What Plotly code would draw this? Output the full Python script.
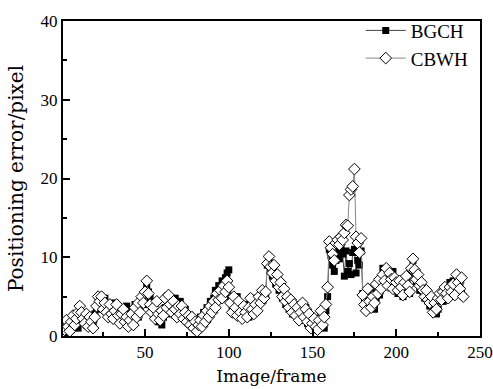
import plotly.graph_objects as go

frames = list(range(1, 241))

bgch = [
    1.0, 0.6, 1.2, 0.4, 1.5, 0.8, 1.8, 1.2, 2.2, 1.0,
    2.6, 1.8, 3.0, 2.0, 1.4, 2.4, 1.2, 2.0, 1.6, 2.8,
    3.4, 4.6, 5.0, 4.4, 3.8, 4.8, 3.6, 2.8, 3.4, 2.6,
    3.2, 4.2, 2.8, 3.6, 2.4, 3.0, 2.0, 2.6, 3.8, 3.0,
    2.2, 3.4, 2.6, 4.0, 3.2, 2.4, 3.6, 4.4, 5.2, 4.0,
    6.2, 5.6, 4.8, 3.4, 2.6, 3.0, 2.2, 1.8, 2.8, 1.4,
    2.4, 3.6, 2.8, 4.2, 3.4, 4.6, 3.8, 4.8, 4.0, 3.2,
    4.4, 3.6, 2.8, 3.4, 2.4, 1.8, 2.6, 1.4, 2.0, 1.2,
    1.8, 0.8, 2.4, 1.6, 3.0, 2.2, 3.6, 2.8, 4.4, 3.4,
    4.8, 5.8, 5.0, 6.4, 5.6, 7.0, 6.6, 7.4, 8.0, 8.4,
    5.0, 3.6, 4.4, 3.0, 5.0, 4.2, 2.6, 3.4, 2.8, 4.0,
    3.2, 2.4, 3.6, 4.4, 3.0, 4.8, 3.8, 4.4, 5.2, 4.6,
    5.6, 5.2, 9.0, 9.6, 8.4, 7.6, 8.0, 6.6, 7.2, 5.8,
    6.2, 4.8, 5.4, 4.0, 4.6, 3.4, 4.2, 2.8, 3.6, 3.0,
    4.0, 2.4, 3.4, 2.0, 2.8, 3.6, 1.6, 2.6, 1.2, 2.0,
    1.4, 0.8, 2.2, 1.6, 3.0, 2.2, 1.0, 3.2, 5.0, 11.0,
    10.2, 9.0, 8.2, 9.6, 10.6, 9.8, 11.2, 10.4, 7.6, 10.8,
    8.2, 9.2, 7.8, 10.6, 11.0, 8.0, 9.6, 9.0, 10.8, 5.4,
    4.6, 3.6, 5.0, 4.0, 5.6, 4.2, 3.4, 4.8, 6.0, 5.2,
    6.8, 8.6, 7.4, 8.4, 7.0, 7.8, 6.6, 8.2, 7.2, 6.2,
    5.4, 6.6, 5.8, 5.0, 6.4, 7.2, 6.0, 5.4, 8.2, 9.6,
    8.0, 6.8, 7.4, 5.8, 6.4, 5.6, 4.8, 5.2, 4.4, 3.8,
    4.6, 3.6, 4.0, 2.8, 3.4, 4.6, 5.2, 4.4, 5.4, 6.0,
    5.2, 6.8, 6.2, 7.0, 5.8, 7.2, 7.6, 6.4, 5.4, 5.0,
]

cbwh = [
    1.6, 0.8, 2.0, 1.2, 0.6, 1.8, 2.6, 1.4, 2.2, 3.0,
    3.8, 3.0, 2.2, 1.6, 2.8, 1.2, 2.4, 1.8, 1.0, 2.4,
    3.8, 5.0, 4.4, 5.0, 3.4, 4.2, 3.0, 2.4, 4.0, 2.8,
    2.2, 3.2, 4.0, 2.6, 1.6, 2.8, 3.4, 1.8, 2.4, 1.2,
    2.0, 2.8, 1.4, 3.6, 2.4, 4.2, 3.0, 5.0, 4.2, 5.6,
    7.0, 5.4, 4.0, 3.0, 3.6, 2.2, 4.4, 2.8, 2.0, 3.2,
    2.6, 4.8, 3.6, 5.2, 4.0, 3.0, 4.4, 3.4, 2.4, 3.8,
    2.8, 3.8, 2.2, 3.0, 1.8, 2.6, 1.4, 2.4, 1.0, 1.8,
    0.6, 1.4, 2.0, 1.2, 2.6, 1.8, 3.2, 2.4, 3.8, 3.0,
    4.4, 3.6, 5.4, 4.6, 5.8, 4.8, 6.4, 5.6, 7.0, 6.2,
    4.2, 3.0, 5.0, 3.6, 2.6, 4.4, 3.0, 2.2, 3.8, 3.0,
    2.4, 3.6, 4.8, 3.4, 2.8, 4.0, 3.2, 5.0, 4.2, 5.8,
    4.8, 5.6, 9.2, 10.1, 8.8, 8.0, 9.0, 7.0, 7.8, 6.2,
    6.8, 5.0, 6.0, 4.4, 5.0, 3.6, 4.6, 3.0, 4.0, 2.6,
    3.6, 2.0, 3.0, 4.2, 2.4, 3.4, 1.8, 2.8, 1.0, 1.6,
    2.2, 1.2, 0.8, 2.0, 3.2, 1.4, 2.4, 4.0, 6.2, 12.0,
    11.2, 10.4, 9.6, 11.8, 12.2, 11.6, 12.6, 12.2, 13.1, 14.1,
    14.0, 17.9, 18.6, 19.0, 21.2, 12.6, 11.8, 10.6, 12.4, 5.2,
    4.0, 3.2, 6.0, 4.4, 3.6, 5.0, 4.2, 6.6, 5.4, 7.2,
    6.0, 7.8, 7.0, 8.6, 6.4, 8.0, 7.2, 6.0, 7.4, 6.8,
    5.8, 7.0, 6.2, 5.2, 6.8, 7.6, 6.4, 5.6, 8.6, 9.8,
    8.4, 7.2, 7.8, 6.4, 6.8, 5.8, 5.0, 5.8, 4.6, 4.2,
    5.0, 3.0, 4.2, 3.4, 4.8, 5.4, 4.6, 5.6, 6.2, 5.4,
    4.8, 6.2, 5.6, 6.6, 5.2, 7.8, 6.8, 6.0, 7.4, 5.0,
]

x_ticks = [50, 100, 150, 200, 250]
y_ticks = [0, 10, 20, 30, 40]

fig = go.Figure()
fig.add_trace(go.Scatter(
    x=frames, y=bgch, name="BGCH", mode="lines+markers",
    line=dict(color="#444444", width=1),
    marker=dict(symbol="square", size=7, color="black", line=dict(width=0)),
))
fig.add_trace(go.Scatter(
    x=frames, y=cbwh, name="CBWH", mode="lines+markers",
    line=dict(color="#888888", width=1),
    marker=dict(symbol="diamond", size=9, color="white", line=dict(color="black", width=1)),
))

axis_common = dict(
    showgrid=False, zeroline=False, showline=True, linecolor="black", linewidth=2,
    mirror=True, ticks="inside", ticklen=7, tickwidth=1.5, tickcolor="black",
    tickfont=dict(family="Liberation Serif", size=17, color="black"),
    automargin=False,
)
fig.update_xaxes(
    range=[1, 250], tickvals=x_ticks, ticktext=[str(v) for v in x_ticks],
    minor=dict(ticks="inside", ticklen=4, dtick=25, tick0=0, tickcolor="black"),
    title=dict(text="Image/frame", font=dict(family="DejaVu Serif", size=17, color="black"), standoff=9),
    **axis_common,
)
fig.update_yaxes(
    range=[0, 40], tickvals=y_ticks, ticktext=[str(v) for v in y_ticks],
    minor=dict(ticks="inside", ticklen=4, dtick=5, tick0=0, tickcolor="black"),
    title=dict(text="Positioning error/pixel", font=dict(family="DejaVu Serif", size=20, color="black"), standoff=12),
    **axis_common,
)
fig.update_layout(
    width=493, height=389,
    margin=dict(l=63, r=13, t=15, b=53),
    plot_bgcolor="white", paper_bgcolor="white",
    showlegend=True,
    legend=dict(x=0.985, y=1.03, xanchor="right", yanchor="top",
                font=dict(family="Liberation Serif", size=19, color="black"),
                bgcolor="rgba(0,0,0,0)", itemwidth=40, tracegroupgap=0),
)
fig.write_html("out.html")
